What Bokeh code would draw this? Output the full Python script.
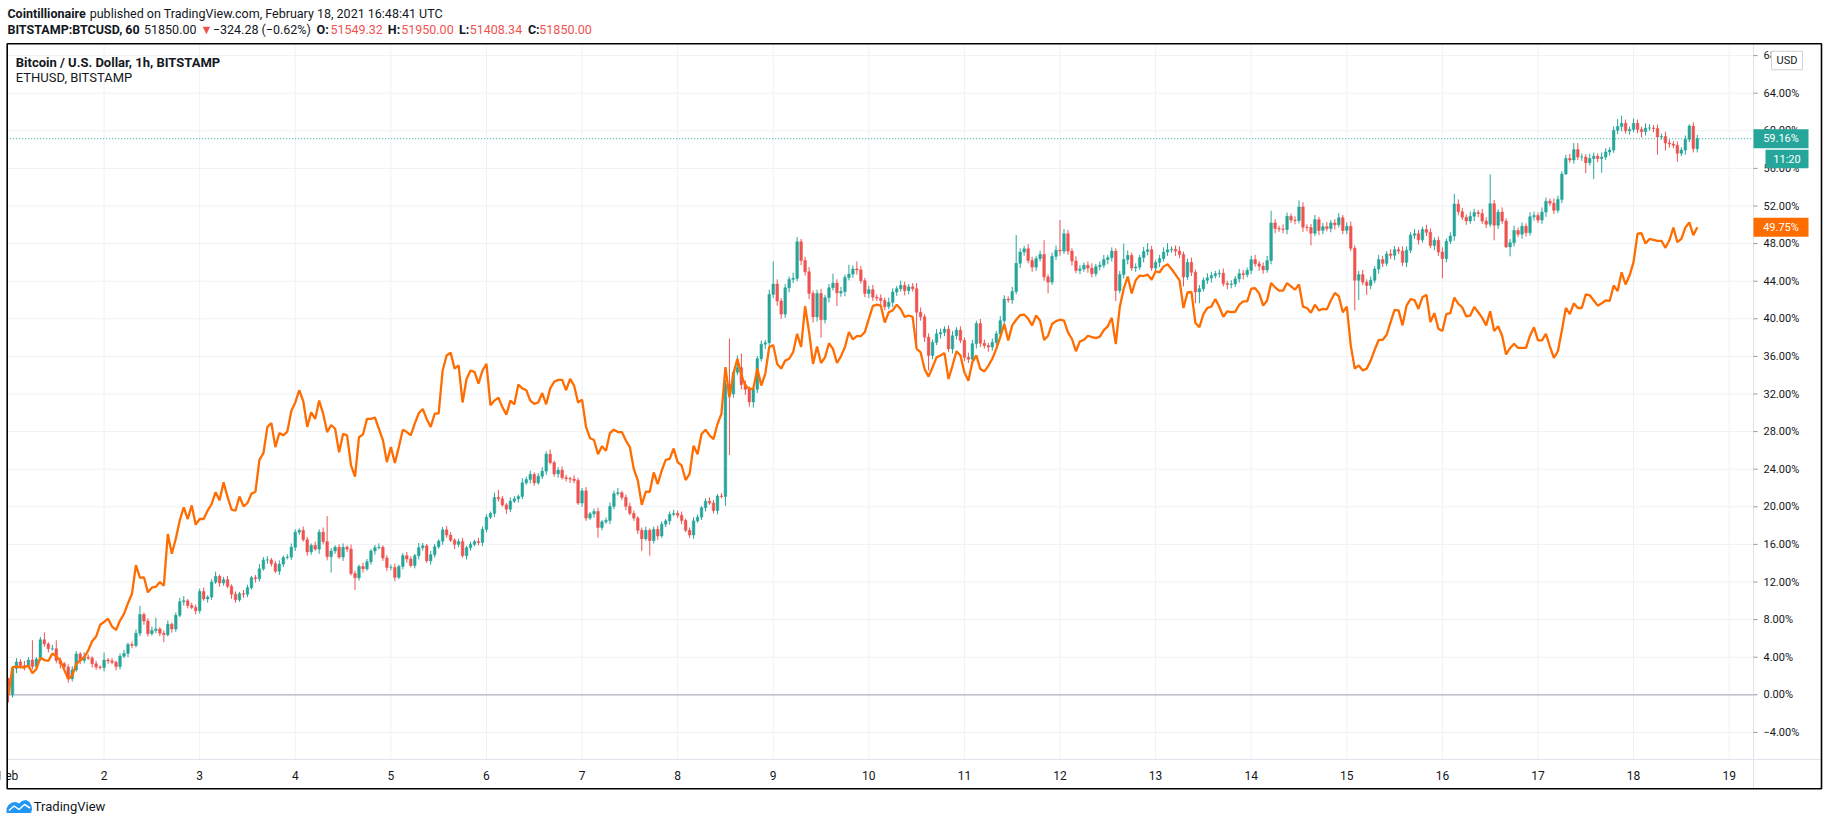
import numpy as np
from bokeh.plotting import figure
from bokeh.models import Range1d, ColumnDataSource
from bokeh.core.properties import value
from bokeh.embed import file_html
from bokeh.resources import INLINE

# ------------------------------------------------------------------ data
# BTCUSD hourly closes, % change vs first bar (Feb 1 00:00 -> Feb 18 16:00)
btc_first_open = 1.7
btc_close = [
    # Feb 1
    0.0, 2.8, 3.5, 3.1, 3.0, 3.7, 3.0, 3.8, 5.85, 5.4, 4.9, 4.9, 3.65, 3.3, 2.95, 1.7, 2.65, 4.35, 3.65, 4.0, 3.9, 3.3, 2.95, 2.9,
    # Feb 2
    3.7, 3.6, 3.45, 3.0, 4.1, 4.4, 5.35, 5.25, 6.55, 8.55, 7.85, 6.5, 6.85, 7.0, 6.55, 6.4, 7.5, 7.0, 8.45, 9.9, 10.0, 9.5, 9.3, 8.95,
    # Feb 3
    11.0, 10.2, 10.4, 12.0, 12.6, 11.9, 12.25, 11.55, 10.7, 10.1, 10.75, 10.7, 11.4, 12.45, 12.35, 13.4, 14.35, 14.35, 13.95, 13.15, 13.9, 14.6, 14.65, 15.7,
    # Feb 4
    17.3, 17.5, 16.5, 15.2, 15.9, 15.5, 17.3, 16.3, 14.7, 15.3, 15.7, 14.65, 15.7, 15.5, 12.9, 12.45, 13.65, 13.4, 14.15, 15.3, 15.65, 15.7, 14.55, 13.55,
    # Feb 5
    13.55, 12.5, 13.65, 14.8, 14.45, 13.75, 14.8, 15.65, 15.85, 14.25, 14.9, 15.75, 16.35, 17.55, 17.0, 16.45, 16.0, 16.3, 14.8, 15.65, 16.0, 16.3, 16.2, 17.6,
    # Feb 6
    18.9, 19.3, 21.0, 20.85, 20.2, 19.75, 20.6, 20.85, 21.1, 22.55, 22.9, 23.45, 22.55, 23.25, 23.8, 25.6, 24.7, 23.5, 23.9, 23.1, 23.0, 22.95, 22.8, 20.4,
    # Feb 7
    21.7, 18.8, 19.25, 19.5, 17.8, 18.4, 18.55, 20.05, 21.4, 21.5, 21.0, 20.05, 19.3, 18.8, 17.5, 16.6, 17.5, 16.4, 17.6, 16.9, 18.15, 18.5, 19.2, 19.3,
    # Feb 8
    19.1, 18.55, 17.5, 17.0, 18.5, 18.9, 19.9, 20.6, 20.4, 19.6, 21.15, 21.1, 33.0, 32.0, 34.3, 34.8, 33.0, 32.5, 31.15, 32.5, 35.75, 37.3, 37.45, 42.6,
    # Feb 9
    43.7, 41.9, 40.5, 43.3, 44.2, 44.3, 48.2, 46.2, 45.0, 42.7, 40.2, 42.7, 39.9, 42.25, 43.3, 43.8, 42.75, 42.9, 44.4, 44.75, 45.3, 45.2, 44.05, 42.7,
    # Feb 10
    43.1, 42.3, 42.2, 41.95, 41.3, 41.75, 42.85, 43.2, 43.55, 43.0, 43.4, 43.2, 40.7, 40.2, 38.05, 36.1, 37.5, 38.4, 38.55, 38.9, 36.8, 38.2, 38.8, 37.7,
    # Feb 11
    35.9, 35.7, 37.35, 39.5, 37.4, 37.15, 37.0, 37.5, 38.4, 39.8, 42.1, 42.0, 42.9, 45.9, 47.1, 47.45, 46.2, 45.5, 46.4, 46.85, 44.45, 43.9, 46.65, 47.3,
    # Feb 12
    47.2, 49.05, 47.2, 46.15, 45.15, 45.3, 45.7, 45.4, 44.8, 45.55, 45.7, 46.3, 46.5, 47.2, 43.0, 44.7, 46.3, 46.75, 45.4, 45.5, 46.5, 47.15, 47.35, 45.4,
    # Feb 13
    46.0, 46.4, 47.1, 47.35, 47.4, 47.2, 46.85, 44.45, 46.0, 44.95, 42.85, 43.2, 44.1, 44.35, 44.6, 44.8, 44.85, 43.75, 43.65, 43.7, 44.25, 44.8, 44.7, 45.15,
    # Feb 14
    46.3, 45.85, 45.6, 45.2, 46.2, 50.2, 49.6, 49.55, 49.5, 50.9, 50.5, 50.45, 51.9, 49.75, 49.7, 49.1, 50.55, 49.4, 49.8, 49.6, 50.2, 50.0, 50.75, 49.4,
    # Feb 15
    49.85, 47.5, 44.1, 44.7, 43.9, 43.55, 44.1, 45.3, 46.3, 45.9, 46.9, 46.75, 47.35, 47.2, 46.0, 47.3, 48.9, 49.05, 48.4, 49.5, 49.2, 47.8, 48.35, 47.1,
    # Feb 16
    46.4, 48.25, 48.8, 52.2, 51.4, 50.8, 50.4, 50.9, 51.3, 51.2, 50.4, 50.05, 52.25, 49.95, 51.35, 50.4, 47.65, 48.1, 49.4, 49.0, 49.85, 49.15, 50.85, 51.0,
    # Feb 17
    50.5, 51.35, 52.5, 52.3, 51.55, 52.7, 55.4, 57.05, 56.9, 58.0, 57.2, 57.2, 56.6, 57.05, 57.3, 57.05, 57.2, 57.75, 57.95, 60.05, 60.45, 60.8, 60.0, 60.15,
    # Feb 18
    60.8, 60.15, 59.9, 60.3, 60.3, 60.25, 59.35, 59.4, 58.7, 58.6, 58.45, 57.6, 57.95, 59.1, 60.5, 58.1, 59.16,
]

# upper / lower wick lengths beyond the body, in tenths of a percent
btc_wick_up = [
    1, 2, 4, 3, 5, 3, 21, 2, 3, 8, 2, 4, 9, 3, 2, 3, 4, 3, 2, 5, 3, 2, 3, 2,
    8, 2, 3, 2, 3, 4, 2, 3, 4, 9, 2, 3, 4, 12, 2, 3, 4, 2, 3, 4, 5, 2, 3, 3,
    3, 4, 2, 3, 5, 2, 3, 4, 2, 3, 2, 4, 3, 2, 3, 5, 3, 4, 2, 3, 4, 2, 3, 4,
    3, 2, 4, 3, 2, 4, 3, 5, 27, 3, 2, 3, 4, 2, 5, 3, 2, 4, 3, 2, 3, 4, 2, 3,
    3, 4, 2, 3, 4, 3, 2, 5, 3, 2, 4, 3, 2, 3, 4, 3, 2, 3, 4, 2, 3, 2, 4, 3,
    3, 2, 5, 8, 3, 2, 4, 3, 2, 5, 3, 4, 2, 3, 4, 3, 5, 2, 3, 4, 3, 2, 4, 3,
    3, 4, 2, 3, 4, 2, 3, 4, 3, 5, 2, 3, 4, 3, 2, 3, 4, 2, 3, 4, 3, 2, 3, 4,
    3, 4, 2, 3, 4, 3, 2, 3, 4, 3, 2, 3, 5, 49, 3, 13, 15, 4, 3, 2, 3, 4, 3, 5,
    24, 5, 3, 4, 3, 6, 5, 3, 4, 5, 3, 4, 5, 3, 4, 10, 4, 5, 3, 10, 4, 8, 4, 3,
    4, 5, 3, 4, 3, 5, 4, 3, 5, 4, 3, 4, 6, 5, 3, 4, 3, 5, 4, 3, 4, 5, 3, 4,
    3, 5, 4, 3, 5, 4, 3, 4, 3, 5, 4, 3, 5, 30, 4, 3, 5, 4, 3, 4, 15, 3, 4, 5,
    32, 5, 4, 3, 5, 4, 3, 4, 5, 3, 4, 5, 3, 4, 3, 4, 17, 5, 3, 4, 3, 5, 7, 4,
    3, 4, 5, 7, 3, 4, 5, 3, 4, 5, 3, 4, 3, 5, 4, 3, 4, 5, 3, 4, 3, 5, 4, 3,
    4, 5, 3, 4, 5, 13, 4, 3, 5, 4, 3, 4, 7, 5, 3, 4, 5, 3, 4, 5, 3, 4, 5, 3,
    4, 5, 3, 4, 5, 3, 4, 3, 5, 4, 3, 5, 4, 3, 5, 4, 3, 5, 4, 3, 5, 4, 3, 4,
    5, 3, 4, 11, 5, 4, 3, 5, 4, 3, 5, 4, 31, 4, 3, 5, 3, 4, 5, 3, 4, 3, 5, 4,
    3, 5, 4, 3, 5, 4, 3, 4, 5, 7, 7, 4, 3, 5, 4, 3, 5, 4, 3, 4, 8, 8, 4, 3,
    5, 4, 3, 5, 4, 3, 4, 3, 5, 4, 3, 4, 3, 4, 2, 4, 4,
]
btc_wick_dn = [
    8, 3, 5, 3, 4, 2, 3, 4, 2, 3, 4, 2, 3, 5, 3, 4, 3, 2, 4, 3, 2, 4, 3, 2,
    4, 3, 2, 4, 3, 2, 4, 3, 2, 3, 4, 3, 2, 3, 3, 8, 2, 4, 3, 2, 4, 3, 2, 4,
    3, 2, 4, 3, 2, 4, 3, 2, 5, 3, 2, 4, 3, 2, 4, 3, 2, 4, 3, 2, 4, 3, 2, 3,
    4, 3, 2, 4, 3, 2, 5, 3, 4, 17, 3, 2, 4, 3, 2, 13, 3, 4, 2, 3, 4, 2, 3, 4,
    3, 4, 2, 3, 4, 2, 3, 4, 3, 2, 4, 3, 2, 4, 3, 2, 5, 3, 2, 4, 3, 2, 3, 4,
    3, 2, 4, 3, 2, 5, 3, 2, 4, 3, 2, 4, 3, 2, 3, 4, 2, 3, 4, 2, 3, 4, 3, 2,
    4, 3, 2, 4, 11, 3, 2, 4, 3, 2, 3, 4, 2, 3, 4, 13, 2, 16, 3, 4, 2, 3, 4, 2,
    3, 4, 2, 3, 4, 2, 3, 4, 2, 3, 4, 2, 10, 65, 4, 3, 5, 6, 5, 6, 4, 3, 5, 4,
    4, 5, 5, 4, 5, 4, 3, 5, 4, 6, 6, 5, 19, 4, 5, 3, 14, 4, 5, 3, 4, 5, 3, 4,
    5, 4, 3, 5, 4, 3, 5, 4, 3, 5, 4, 3, 37, 4, 5, 16, 4, 3, 5, 4, 3, 5, 4, 3,
    4, 4, 3, 5, 4, 3, 5, 4, 3, 4, 5, 3, 4, 3, 5, 4, 3, 5, 4, 3, 4, 12, 3, 4,
    5, 3, 4, 5, 3, 4, 3, 5, 4, 3, 4, 3, 5, 4, 11, 3, 4, 5, 3, 4, 3, 5, 4, 3,
    4, 5, 3, 4, 3, 5, 4, 10, 3, 4, 12, 12, 3, 4, 5, 3, 4, 3, 5, 4, 3, 4, 5, 3,
    4, 3, 5, 4, 3, 4, 5, 3, 4, 5, 3, 4, 3, 5, 4, 13, 3, 5, 4, 3, 4, 5, 3, 4,
    4, 3, 32, 21, 3, 10, 4, 3, 5, 4, 3, 4, 5, 3, 4, 5, 3, 4, 5, 3, 4, 3, 5, 4,
    21, 4, 3, 5, 4, 3, 4, 3, 5, 4, 3, 4, 3, 16, 4, 3, 1, 10, 4, 3, 5, 4, 3, 4,
    3, 4, 5, 3, 4, 3, 4, 1, 3, 4, 3, 4, 11, 3, 22, 4, 15, 3, 4, 3, 4, 5, 3, 4,
    3, 4, 6, 4, 3, 4, 19, 3, 8, 4, 3, 9, 3, 5, 3, 4, 4,
]

# ETHUSD hourly closes, % change vs first bar
eth_close = [
    0.0, 2.95, 3.0, 2.95, 2.9, 3.1, 2.3, 2.75, 3.95, 3.7, 3.6, 4.4, 4.1, 3.65, 2.65, 1.7, 2.05, 3.3, 3.65, 4.0, 4.7, 5.7, 6.2, 7.45,
    7.75, 8.1, 7.25, 6.9, 7.9, 8.6, 9.75, 10.75, 13.8, 12.45, 12.5, 10.9, 11.4, 11.5, 12.0, 11.6, 17.1, 15.0, 16.6, 18.55, 19.95, 18.7, 20.15, 18.1,
    18.7, 18.7, 19.6, 20.3, 21.55, 20.7, 22.6, 21.05, 19.7, 19.6, 21.1, 20.05, 20.4, 21.4, 21.6, 25.0, 25.7, 28.5, 28.9, 26.35, 27.85, 27.6, 28.0, 30.2,
    31.1, 32.4, 31.25, 28.5, 30.05, 29.35, 31.3, 29.9, 27.95, 28.7, 28.3, 25.8, 27.75, 27.6, 24.4, 23.2, 27.4, 27.7, 29.35, 29.35, 29.5, 28.3, 27.1, 24.75,
    26.35, 24.65, 26.35, 28.2, 27.95, 27.6, 28.85, 29.95, 30.4, 29.35, 28.5, 29.9, 29.95, 34.5, 36.1, 36.4, 34.7, 35.05, 31.1, 33.6, 34.5, 34.35, 33.1, 34.5,
    35.2, 30.8, 31.3, 31.6, 30.6, 29.8, 31.3, 30.9, 33.0, 32.6, 32.4, 31.3, 30.95, 31.1, 32.1, 30.9, 32.6, 33.3, 33.5, 33.5, 32.4, 33.6, 32.9, 31.1,
    31.4, 28.5, 27.3, 27.1, 25.6, 26.45, 25.95, 27.85, 28.2, 27.95, 27.95, 27.05, 26.35, 24.0, 22.8, 20.2, 21.6, 21.6, 23.65, 22.4, 23.85, 25.0, 25.1, 26.2,
    24.75, 24.4, 22.85, 23.5, 26.5, 25.6, 27.75, 28.2, 27.6, 27.2, 28.8, 29.9, 34.85, 31.65, 34.15, 35.75, 34.0, 32.9, 32.55, 32.55, 34.7, 32.9, 34.15, 37.0,
    37.2, 35.2, 34.7, 35.55, 35.75, 36.45, 38.4, 37.0, 41.35, 38.6, 35.2, 37.05, 35.3, 35.9, 37.4, 36.8, 35.3, 36.0, 37.0, 38.6, 37.8, 38.15, 38.15, 38.6,
    40.0, 41.35, 41.5, 41.4, 39.6, 40.7, 40.9, 41.5, 41.05, 40.2, 40.35, 40.2, 36.8, 36.45, 34.65, 33.85, 34.85, 35.9, 36.1, 36.35, 33.6, 35.0, 36.55, 36.1,
    34.3, 33.4, 35.4, 36.1, 34.65, 34.4, 35.0, 35.75, 36.8, 38.05, 39.45, 37.7, 39.3, 39.9, 40.4, 40.45, 40.0, 39.3, 40.35, 39.8, 37.75, 38.2, 39.45, 39.75,
    39.9, 39.8, 38.55, 37.85, 36.55, 37.6, 37.75, 38.2, 38.05, 37.95, 38.1, 38.8, 39.2, 40.1, 37.3, 41.25, 43.2, 44.5, 42.7, 44.1, 44.6, 44.55, 44.7, 44.15,
    45.05, 44.95, 45.55, 45.8, 45.3, 44.7, 44.1, 41.15, 42.8, 42.85, 39.55, 39.1, 40.5, 41.15, 41.3, 42.1, 41.25, 40.2, 40.8, 40.7, 40.75, 41.5, 41.85, 41.85,
    43.2, 43.25, 42.7, 41.4, 41.95, 43.8, 43.35, 43.0, 43.0, 43.8, 43.45, 43.1, 43.65, 41.3, 41.15, 40.65, 41.5, 40.9, 41.05, 41.0, 41.95, 42.75, 42.4, 40.7,
    41.3, 37.15, 34.7, 35.05, 34.5, 34.7, 35.55, 36.7, 37.75, 37.75, 38.3, 39.65, 40.95, 40.9, 39.3, 41.4, 42.1, 42.0, 41.05, 42.3, 42.55, 39.65, 40.6, 38.95,
    38.7, 40.5, 40.6, 42.25, 41.6, 41.2, 40.25, 40.35, 41.25, 40.7, 40.1, 39.3, 40.8, 38.7, 39.2, 38.2, 36.2, 36.9, 37.35, 36.9, 36.9, 36.9, 38.2, 39.1,
    37.7, 37.7, 38.4, 37.05, 35.85, 36.55, 38.75, 41.15, 40.5, 41.65, 41.15, 41.15, 42.6, 42.5, 41.95, 41.4, 41.65, 41.95, 41.9, 43.55, 42.95, 44.95, 43.65, 44.6,
    46.05, 49.06, 49.1, 48.0, 48.5, 48.4, 48.3, 48.3, 47.55, 48.35, 49.7, 48.15, 48.5, 49.7, 50.25, 48.9, 49.75,
]

pct_ticks = [-4, 0, 4, 8, 12, 16, 20, 24, 28, 32, 36, 40, 44, 48, 52, 56, 60, 64, 68]
pct_labels = ["\u22124.00%", "0.00%", "4.00%", "8.00%", "12.00%", "16.00%", "20.00%",
              "24.00%", "28.00%", "32.00%", "36.00%", "40.00%", "44.00%", "48.00%",
              "52.00%", "56.00%", "60.00%", "64.00%", "68.00%"]
day_ticks = [0, 24, 48, 72, 96, 120, 144, 168, 192, 216, 240, 264, 288, 312, 336, 360, 384, 408, 432]
day_labels = ["Feb", "2", "3", "4", "5", "6", "7", "8", "9", "10", "11", "12", "13",
              "14", "15", "16", "17", "18", "19"]

header_ohlc = ["51549.32", "51950.00", "51408.34", "51850.00"]
header_last = "51850.00"
header_change = "\u2212324.28 (\u22120.62%)"
countdown = "11:20"

# ------------------------------------------------------------------ layout / style
UP = "#26a69a"
DOWN = "#ef5350"
ETH = "#ff6d00"
DARK = "#131722"
GRID = "#eff1f5"
SEP = "#e0e3eb"
FONT = value("Roboto")

W, H = 1828, 825
PXH = 3.983          # pixels per hour
PPP = 9.4            # pixels per percent
X_FIRST = 8.0        # pixel x of the first bar
ZERO_Y = 694.3       # pixel y of 0 %
PANE_L, PANE_R, PANE_T, PANE_B = 6.7, 1753.0, 44.0, 759.0
OUT_R, OUT_B, OUT_T = 1821.0, 788.3, 43.3


def X(px):
    return (px - X_FIRST) / PXH


def Y(py):
    return (ZERO_Y - py) / PPP


n = min(len(btc_close), len(btc_wick_up), len(btc_wick_dn))
c = np.array(btc_close[:n], dtype=float)
o = np.concatenate([[btc_first_open], c[:-1]])
hi = np.maximum(o, c) + np.array(btc_wick_up[:n]) / 10.0
lo = np.minimum(o, c) - np.array(btc_wick_dn[:n]) / 10.0
hours = np.arange(n)
colors = np.where(c >= o, UP, DOWN)
src = ColumnDataSource(dict(x=hours, top=np.maximum(o, c), bottom=np.minimum(o, c),
                            hi=hi, lo=lo, color=colors))

p = figure(width=W, height=H, output_backend="svg", toolbar_location=None,
           x_range=Range1d(X(0), X(W)), y_range=Range1d(Y(H), Y(0)),
           x_axis_location=None, y_axis_location=None, title_location=None,
           min_border=0)
p.background_fill_color = "white"
p.border_fill_color = "white"
p.outline_line_color = None
p.grid.visible = False

# ---- pane grid (from the tick arrays)
vt = day_ticks[1:]
p.segment(x0=vt, y0=[Y(PANE_T)] * len(vt), x1=vt, y1=[Y(PANE_B)] * len(vt),
          line_color=GRID, line_width=1)
p.segment(x0=[X(PANE_L)] * len(pct_ticks), y0=pct_ticks,
          x1=[X(PANE_R)] * len(pct_ticks), y1=pct_ticks, line_color=GRID, line_width=1)

# zero line
p.segment(x0=[X(PANE_L)], y0=[0], x1=[X(PANE_R)], y1=[0], line_color="#b2b5be", line_width=1.2)

# ---- candles
p.segment(x0="x", y0="lo", x1="x", y1="hi", line_color="color", line_width=1, source=src)
p.vbar(x="x", width=0.66, top="top", bottom="bottom", fill_color="color",
       line_color="color", line_width=0.5, source=src)

# ---- ETH compare line
p.line(np.arange(len(eth_close)), eth_close, line_color=ETH, line_width=2.3)

# last-price dotted line
p.segment(x0=[X(PANE_L)], y0=[btc_close[-1]], x1=[X(PANE_R)], y1=[btc_close[-1]],
          line_color=UP, line_width=1, line_dash="1 2")

# ---- price scale
p.segment(x0=[X(PANE_R)], y0=[Y(PANE_T)], x1=[X(PANE_R)], y1=[Y(OUT_B)],
          line_color=SEP, line_width=1)
p.segment(x0=[X(PANE_R)] * len(pct_ticks), y0=pct_ticks,
          x1=[X(PANE_R + 4)] * len(pct_ticks), y1=pct_ticks, line_color="#9598a1", line_width=1)
p.text(x=[X(1763)] * len(pct_ticks), y=pct_ticks, text=pct_labels, text_font=FONT,
       text_font_size=value("11px"), text_color=DARK, text_align="left",
       text_baseline="middle")

# ---- time scale
p.segment(x0=[X(PANE_L)], y0=[Y(PANE_B)], x1=[X(OUT_R)], y1=[Y(PANE_B)],
          line_color=SEP, line_width=1.2)
p.text(x=day_ticks, y=[Y(775)] * len(day_ticks), text=day_labels, text_font=FONT,
       text_font_size=value("12px"), text_color=DARK, text_align="center",
       text_baseline="middle")

# ---- tags on the price scale
half = 9.5 / PPP
last_btc = btc_close[-1]
last_eth = eth_close[-1]
p.quad(left=[X(PANE_R), X(PANE_R)], right=[X(1808), X(1808)],
       top=[last_btc + half, last_eth + half], bottom=[last_btc - half, last_eth - half],
       fill_color=[UP, ETH], line_color=None)
p.quad(left=[X(1765)], right=[X(1808)], top=[Y(149.3)], bottom=[Y(167.7)],
       fill_color=UP, line_color=None)
p.text(x=[X(1780.5), X(1780.5), X(1786.5)], y=[last_btc, last_eth, Y(158.5)],
       text=["%.2f%%" % last_btc, "%.2f%%" % last_eth, countdown], text_font=FONT,
       text_font_size=value("11px"), text_color="white", text_align="center",
       text_baseline="middle")
# USD button
p.quad(left=[X(1771)], right=[X(1802)], top=[Y(50.7)], bottom=[Y(69.3)],
       fill_color="white", line_color="#d1d4dc", line_width=1)
p.text(x=[X(1786.5)], y=[Y(60)], text=["USD"], text_font=FONT,
       text_font_size=value("11px"), text_color=DARK, text_align="center",
       text_baseline="middle")

# ---- mask left of the frame and outer frame
p.quad(left=[X(0)], right=[X(PANE_L)], top=[Y(OUT_T)], bottom=[Y(OUT_B)],
       fill_color="white", line_color=None)
p.quad(left=[X(PANE_L)], right=[X(OUT_R)], top=[Y(OUT_T)], bottom=[Y(OUT_B)],
       fill_color=None, line_color="black", line_width=1.6)

# ---- legend inside the pane
p.text(x=[X(15.3), X(15.3)], y=[Y(61.7), Y(77.3)],
       text=["Bitcoin / U.S. Dollar, 1h, BITSTAMP", "ETHUSD, BITSTAMP"],
       text_font=FONT, text_font_size=value("13px"), text_color=DARK,
       text_font_style=["bold", "normal"], text_align="left", text_baseline="middle")

# ---- header
hdr_items = [
    ("Cointillionaire", "bold", DARK, 6.9, 12.7),
    ("published on TradingView.com, February 18, 2021 16:48:41 UTC", "normal", DARK, 89.2, 12.7),
    ("BITSTAMP:BTCUSD, 60", "bold", DARK, 6.9, 29.3),
    (header_last, "normal", DARK, 143.5, 29.3),
    ("\u25BC", "normal", DOWN, 199.8, 29.3),
    (header_change, "normal", DARK, 212.4, 29.3),
    ("O:", "bold", DARK, 316.1, 29.3), (header_ohlc[0], "normal", DOWN, 329.9, 29.3),
    ("H:", "bold", DARK, 387.3, 29.3), (header_ohlc[1], "normal", DOWN, 400.7, 29.3),
    ("L:", "bold", DARK, 458.5, 29.3), (header_ohlc[2], "normal", DOWN, 469.2, 29.3),
    ("C:", "bold", DARK, 527.4, 29.3), (header_ohlc[3], "normal", DOWN, 538.8, 29.3),
]
hdr = ColumnDataSource(dict(
    x=[X(t[3]) for t in hdr_items], y=[Y(t[4]) for t in hdr_items],
    text=[t[0] for t in hdr_items], tcol=[t[2] for t in hdr_items],
    tstyle=[t[1] for t in hdr_items]))
p.text(x="x", y="y", text="text", text_color="tcol", text_font_style="tstyle",
       text_font=FONT, text_font_size=value("12.5px"), text_align="left",
       text_baseline="middle", source=hdr)

# ---- footer logo
logo_x = [6, 6, 8, 11.5, 15.5, 18.5, 21.5, 25.5, 29, 31, 31.5, 30.5]
logo_y = [812.5, 808, 804.5, 802, 801.5, 803, 800.5, 799.5, 801.5, 805, 809, 812.5]
p.patch([X(v) for v in logo_x], [Y(v) for v in logo_y], fill_color="#2196f3", line_color=None)
zig_x = [8.5, 13.5, 18.5, 24, 29.5]
zig_y = [810, 805.5, 809, 804, 807.5]
p.line([X(v) for v in zig_x], [Y(v) for v in zig_y], line_color="white", line_width=1.5)
p.text(x=[X(33.3)], y=[Y(806)], text=["TradingView"], text_font=FONT,
       text_font_size=value("13px"), text_color=DARK, text_align="left",
       text_baseline="middle")

open("out.html", "w").write(file_html(p, INLINE))
